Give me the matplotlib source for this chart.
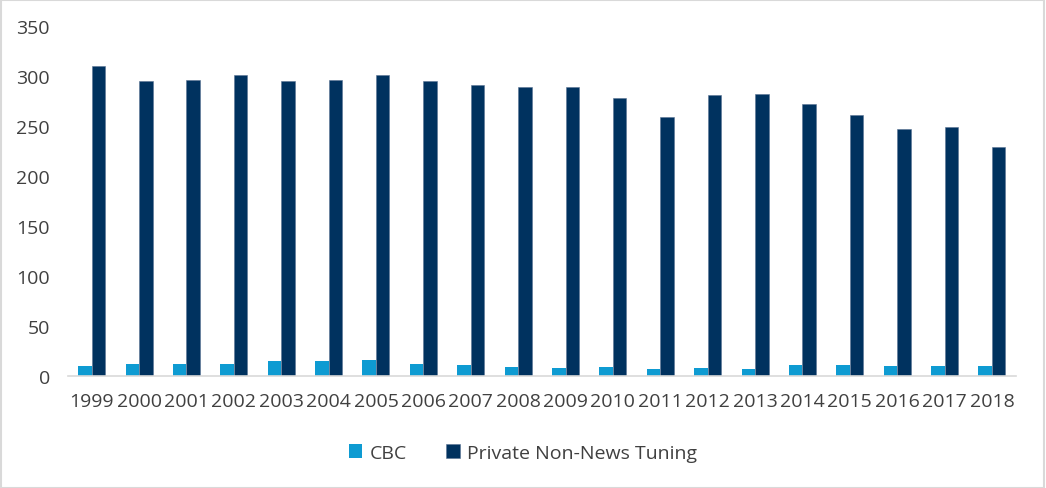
import matplotlib
matplotlib.use("Agg")
import matplotlib.pyplot as plt
import numpy as np
from matplotlib.patches import Rectangle

years = [str(y) for y in range(1999, 2019)]
cbc = [10, 12, 12, 12, 15, 15, 16, 12, 11, 9, 8, 9, 7, 8, 7, 11, 11, 10, 10, 10]
private = [310, 295, 296, 301, 295, 296, 301, 295, 291, 289, 289, 278, 259, 281, 282, 272, 261, 247, 249, 229]

plt.rcParams['font.family'] = ['Open Sans', 'DejaVu Sans']

fig = plt.figure(figsize=(10.46, 4.89), dpi=100)
ax = fig.add_axes([0.065, 0.2297, 0.906, 0.7157])

x = np.arange(len(years))
w = 0.285
ax.bar(x - w/2, cbc, width=w, color='#0E9BD2', label='CBC', linewidth=0)
ax.bar(x + w/2, private, width=w, color='#00325F', edgecolor='#5A7394', linewidth=0.4, label='Private Non-News Tuning')

ax.set_xlim(-0.5, len(years) - 0.5)
ax.set_ylim(0, 350)
ax.set_yticks(range(0, 351, 50))
ax.set_xticks(x)
ax.set_xticklabels(years)
for s in ['top', 'right', 'left']:
    ax.spines[s].set_visible(False)
ax.spines['bottom'].set_color('#D9D9D9')
ax.spines['bottom'].set_linewidth(1.2)
ax.tick_params(axis='both', length=0, labelsize=14, colors='#404040')
ax.tick_params(axis='y', pad=13)
ax.tick_params(axis='x', pad=12)

leg = fig.legend(loc='center', bbox_to_anchor=(0.5, 0.072), ncol=2, frameon=False,
                 fontsize=14, handlelength=0.7, handleheight=0.7, columnspacing=2.0,
                 handletextpad=0.4, labelcolor='#404040')

fig.patches.append(Rectangle((0.001, 0.001), 0.997, 0.996, transform=fig.transFigure,
                             fill=False, edgecolor='#D9D9D9', linewidth=1.5))

fig.savefig('out.png', dpi=100)
